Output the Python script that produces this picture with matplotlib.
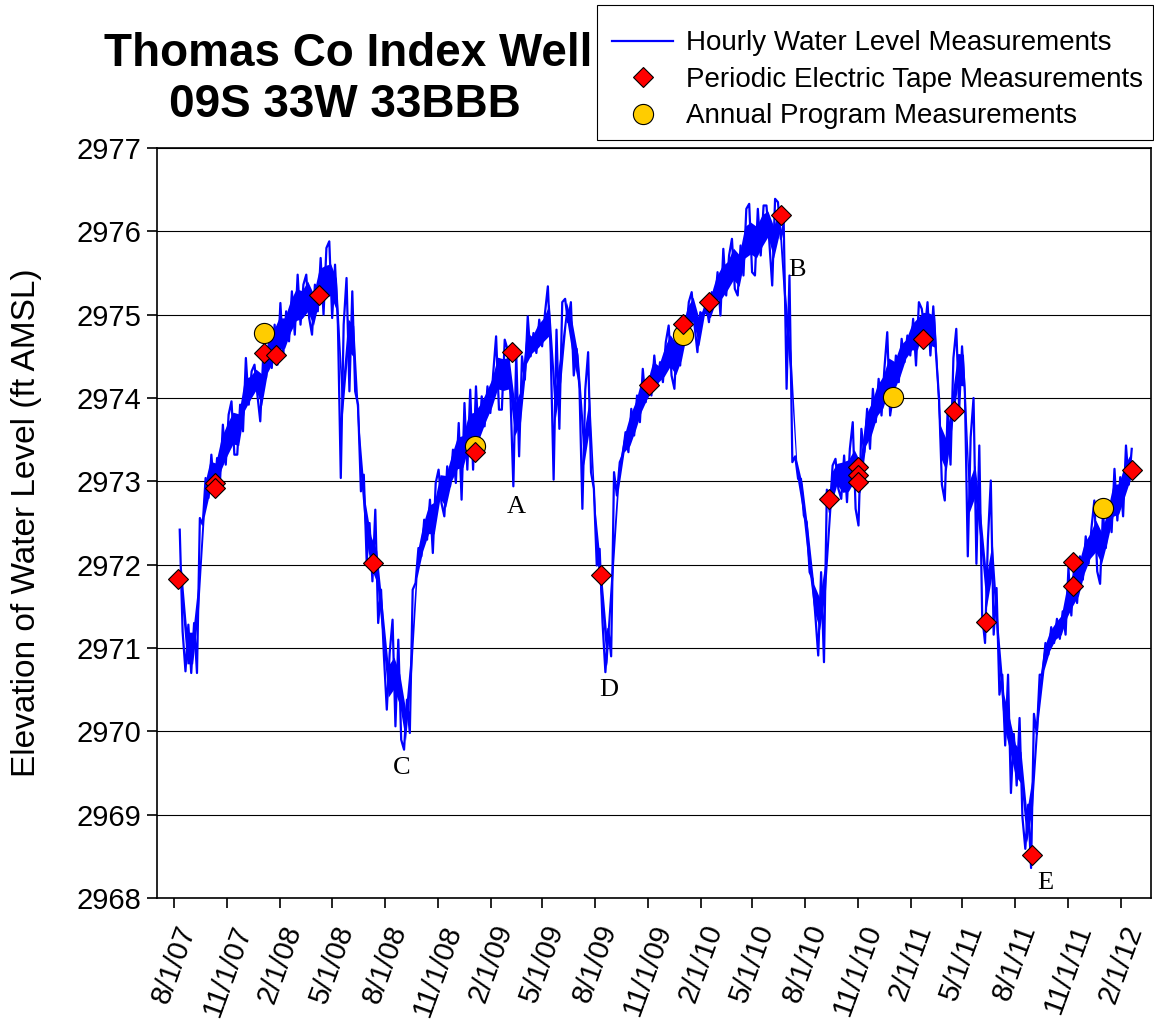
import numpy as np
import pandas as pd
import matplotlib
matplotlib.use("Agg")
import matplotlib.pyplot as plt
import matplotlib.dates as mdates
from matplotlib.patches import Rectangle
from matplotlib.ticker import FuncFormatter, MultipleLocator

# Hourly record, read off the chart as 10-day bins starting 2007-08-08:
# lowest and highest level seen in each bin (ft AMSL)
hourly_start = "2007-08-08"
hourly_step_days = 10
hourly_low = [
    2971.20, 2970.72, 2970.70, 2970.70, 2972.48, 2972.80, 2972.88, 2973.00, 2973.20, 2973.32,
    2973.32, 2973.60, 2973.92, 2974.04, 2973.72, 2974.24, 2974.36, 2974.40, 2974.52, 2974.68,
    2974.76, 2974.88, 2974.96, 2974.76, 2975.04, 2975.00, 2974.96, 2974.88, 2973.04, 2974.08,
    2974.08, 2972.88, 2972.04, 2971.80, 2971.30, 2970.90, 2970.26, 2970.06, 2969.90, 2969.78,
    2969.98, 2971.78, 2972.10, 2972.30, 2972.14, 2972.74, 2972.58, 2972.94, 2972.98, 2972.78,
    2973.14, 2973.14, 2973.46, 2973.66, 2973.82, 2973.86, 2973.86, 2974.02, 2972.94, 2973.30,
    2974.22, 2974.50, 2974.54, 2974.62, 2974.54, 2973.02, 2973.63, 2974.91, 2974.27, 2974.11,
    2972.67, 2973.11, 2971.99, 2971.31, 2970.71, 2970.90, 2972.83, 2973.31, 2973.35, 2973.55,
    2973.71, 2973.95, 2974.03, 2974.15, 2974.19, 2974.27, 2974.11, 2974.39, 2974.75, 2974.87,
    2974.55, 2974.99, 2974.91, 2975.11, 2974.99, 2975.23, 2975.31, 2975.23, 2975.47, 2975.51,
    2975.47, 2975.71, 2975.87, 2975.35, 2975.91, 2974.11, 2973.23, 2973.03, 2972.59, 2971.91,
    2971.39, 2970.91, 2970.83, 2972.63, 2972.91, 2972.79, 2972.75, 2972.67, 2972.47, 2973.35,
    2973.39, 2973.71, 2973.79, 2973.79, 2974.03, 2974.19, 2974.43, 2974.51, 2974.39, 2974.79,
    2974.51, 2974.50, 2972.96, 2972.77, 2973.20, 2973.86, 2974.05, 2972.10, 2972.01, 2971.39,
    2971.06, 2971.16, 2970.44, 2969.83, 2969.26, 2969.35, 2968.97, 2968.59, 2968.36, 2969.97,
    2970.68, 2970.92, 2971.06, 2971.11, 2971.16, 2971.39, 2971.54, 2971.82, 2972.01, 2971.92,
    2971.77, 2972.20, 2972.39, 2972.53, 2972.58, 2972.96,
]
hourly_high = [
    2972.42, 2971.28, 2971.30, 2972.56, 2973.04, 2973.32, 2973.28, 2973.68, 2973.80, 2973.96,
    2973.92, 2974.48, 2974.32, 2974.40, 2974.48, 2974.68, 2974.88, 2975.14, 2975.04, 2975.28,
    2975.48, 2975.36, 2975.48, 2975.36, 2975.68, 2975.80, 2975.88, 2975.60, 2974.88, 2975.44,
    2975.28, 2973.92, 2973.08, 2972.50, 2972.66, 2971.70, 2970.94, 2971.34, 2971.10, 2970.38,
    2971.70, 2972.20, 2972.54, 2972.78, 2972.98, 2973.14, 2973.18, 2973.38, 2973.70, 2973.94,
    2974.10, 2974.14, 2974.02, 2974.14, 2974.30, 2974.74, 2974.70, 2974.58, 2974.54, 2974.50,
    2974.98, 2974.78, 2974.94, 2975.02, 2975.34, 2974.82, 2975.15, 2975.19, 2975.15, 2974.59,
    2974.10, 2974.55, 2972.91, 2972.19, 2971.23, 2973.11, 2973.23, 2973.59, 2973.87, 2974.03,
    2974.35, 2974.23, 2974.51, 2974.43, 2974.67, 2974.87, 2974.83, 2974.91, 2975.15, 2975.27,
    2975.03, 2975.15, 2975.27, 2975.51, 2975.79, 2975.71, 2975.91, 2975.83, 2976.27, 2976.33,
    2976.27, 2976.31, 2976.31, 2976.39, 2976.35, 2976.10, 2975.47, 2973.30, 2973.03, 2972.51,
    2971.83, 2971.91, 2972.90, 2973.19, 2973.27, 2973.31, 2973.39, 2973.71, 2973.63, 2973.87,
    2974.11, 2974.23, 2974.35, 2974.79, 2974.51, 2974.71, 2974.75, 2974.95, 2975.15, 2975.07,
    2975.15, 2975.10, 2974.00, 2973.86, 2974.48, 2974.83, 2974.62, 2973.53, 2974.00, 2973.43,
    2972.30, 2973.01, 2971.72, 2970.68, 2970.68, 2969.97, 2970.16, 2969.12, 2970.21, 2970.68,
    2971.06, 2971.25, 2971.35, 2971.44, 2971.96, 2972.01, 2972.10, 2972.34, 2972.44, 2972.77,
    2972.63, 2972.72, 2973.15, 2973.05, 2973.43, 2973.39,
]

# Periodic electric tape measurements
tape_dates = [
    "2007-08-08", "2007-10-11", "2007-10-11", "2008-01-04", "2008-01-25", "2008-04-09",
    "2008-07-11", "2009-01-04", "2009-03-10", "2009-08-11", "2009-11-04", "2010-01-02",
    "2010-02-15", "2010-06-21", "2010-09-13", "2010-11-02", "2010-11-02", "2010-11-02",
    "2011-02-22", "2011-04-18", "2011-06-13", "2011-08-31", "2011-11-10", "2011-11-11",
    "2012-02-21",
]
tape_levels = [
    2971.83, 2972.98, 2972.92, 2974.54, 2974.52, 2975.24,
    2972.02, 2973.35, 2974.55, 2971.87, 2974.15, 2974.89,
    2975.15, 2976.19, 2972.79, 2973.17, 2973.07, 2972.99,
    2974.71, 2973.84, 2971.31, 2968.52, 2972.03, 2971.74,
    2973.14,
]

# Annual program measurements
annual_dates = ["2008-01-04", "2009-01-04", "2010-01-01", "2011-01-01", "2012-01-01"]
annual_levels = [2974.78, 2973.42, 2974.76, 2974.01, 2972.68]

# Letter annotations
event_labels = ["A", "B", "C", "D", "E"]
event_dates = ["2009-03-17", "2010-07-19", "2008-08-31", "2009-08-26", "2011-09-23"]
event_levels = [2972.69, 2975.54, 2969.56, 2970.50, 2968.18]

plt.rcParams['font.family'] = ['Liberation Sans', 'DejaVu Sans']

# zigzag through each bin's low and high so the band looks like the noisy hourly trace
bin_start = pd.Timestamp(hourly_start) + pd.to_timedelta(np.arange(len(hourly_low)) * hourly_step_days, unit='D')
lows = np.array(hourly_low)
highs = np.array(hourly_high)
mids = (lows + highs) / 2
line_t, line_v = [], []
for i, t in enumerate(bin_start):
    falling = i + 1 < len(mids) and mids[i + 1] < mids[i]
    first, second = (highs[i], lows[i]) if falling else (lows[i], highs[i])
    line_t += [t + pd.Timedelta(days=2.5), t + pd.Timedelta(days=7.5)]
    line_v += [first, second]

# thinner solid core so the band isn't all white gaps
half = np.minimum((highs - lows) * 0.35, 0.19)

fig = plt.figure(figsize=(11.54, 10.23), dpi=100)
ax = fig.add_axes([0.13605, 0.12219, 0.86135, 0.73314])

ax.fill_between(bin_start + pd.Timedelta(days=5), mids - half, mids + half,
                color='#0000FF', lw=0, zorder=2)
h_line, = ax.plot(line_t, line_v, color='#0000FF', lw=1.6, zorder=2)
h_annual, = ax.plot(pd.to_datetime(annual_dates), annual_levels, ls='none', marker='o', ms=14.5,
                    mfc='#FFCC00', mec='black', mew=0.8, zorder=3)
h_tape, = ax.plot(pd.to_datetime(tape_dates), tape_levels, ls='none', marker='D', ms=10,
                  mfc='#FF0000', mec='black', mew=0.8, zorder=4)

for lab, d, v in zip(event_labels, event_dates, event_levels):
    ax.text(pd.Timestamp(d), v, lab, ha='center', va='center', fontsize=19,
            family=['Liberation Serif', 'DejaVu Serif'], zorder=5)

ax.set_xlim(pd.Timestamp("2007-07-02"), pd.Timestamp("2012-03-25"))
ax.set_ylim(2968, 2977)
ax.yaxis.set_major_locator(MultipleLocator(1))
ax.yaxis.set_major_formatter(FuncFormatter(lambda v, p: f"{int(round(v))}"))
ax.xaxis.set_major_locator(mdates.MonthLocator(bymonth=[2, 5, 8, 11], bymonthday=1))

def fmt_date(v, pos):
    d = mdates.num2date(v)
    return f"{d.month}/{d.day}/{d:%y}"

ax.xaxis.set_major_formatter(FuncFormatter(fmt_date))
ax.yaxis.grid(True, color='black', lw=0.8)
ax.set_axisbelow(True)
for sp in ax.spines.values():
    sp.set_linewidth(1.2)
ax.tick_params(direction='out', length=7.5, width=1.2, labelsize=21)
ax.tick_params(axis='x', labelrotation=70, pad=9)

fig.text(27 / 1154, 1 - 523 / 1023, "Elevation of Water Level (ft AMSL)", rotation=90,
         ha='center', va='center', fontsize=24)

fig.text(348 / 1154, 1 - 66 / 1023, "Thomas Co Index Well", ha='center', va='baseline',
         fontsize=33, fontweight='bold')
fig.text(345 / 1154, 1 - 117 / 1023, "09S 33W 33BBB", ha='center', va='baseline',
         fontsize=33, fontweight='bold')

# legend box drawn on its own so the entries can sit a little low inside it, as in the original
fig.add_artist(Rectangle((597 / 1154, 1 - 140 / 1023), 556 / 1154, 135 / 1023,
                         transform=fig.transFigure, fill=False, ec='black', lw=0.8))
leg = fig.legend([h_line, h_tape, h_annual],
                 ["Hourly Water Level Measurements", "Periodic Electric Tape Measurements",
                  "Annual Program Measurements"],
                 loc='upper left', bbox_to_anchor=(597 / 1154, 1 - 15 / 1023),
                 borderaxespad=0, fontsize=20, handlelength=2.2,
                 handletextpad=0.45, labelspacing=0.38, borderpad=0.55, frameon=False)

fig.savefig("out.png", dpi=100)
